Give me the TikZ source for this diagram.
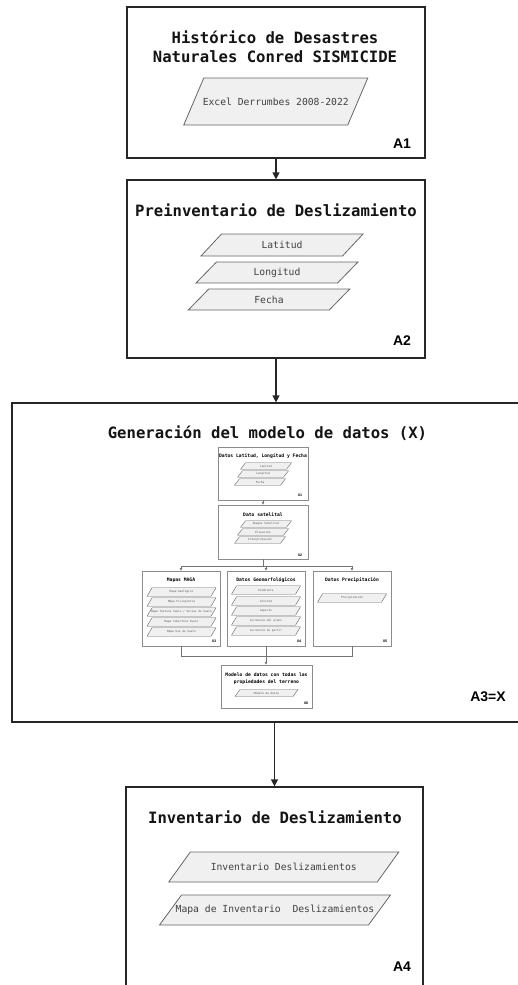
\documentclass[tikz,border=0pt]{standalone}
\usepackage{fontspec}
\newfontfamily\codefont{DejaVu Sans Mono}
\newfontfamily\tagfont{Liberation Sans}
\usetikzlibrary{arrows.meta}

\tikzset{
  stage/.style={draw=black!85, line width=1.2pt, fill=white, inner sep=0pt},
  substage/.style={draw=black!45, line width=0.8pt, fill=white, inner sep=0pt},
  slab/.style={draw=black!60, line width=0.8pt, fill=black!6},
  bigtitle/.style={font=\codefont\bfseries\fontsize{15.6}{19}\selectfont, align=center, text=black!92, inner sep=0pt},
  smalltitle/.style={font=\codefont\bfseries\fontsize{4.7}{7}\selectfont, align=center, inner sep=0pt},
  slabtext/.style={font=\codefont\fontsize{9.7}{11}\selectfont, text=black!75, inner sep=0pt},
  tinytext/.style={font=\codefont\fontsize{2.8}{3.5}\selectfont, text=black!65, inner sep=0pt},
  bigtag/.style={font=\tagfont\bfseries\fontsize{14}{16}\selectfont, inner sep=0pt},
  smalltag/.style={font=\tagfont\bfseries\fontsize{3.6}{4}\selectfont, inner sep=0pt},
  flow/.style={-{Triangle[length=7pt,width=7pt]}, line width=1.2pt, draw=black!85},
  subflow/.style={-{Triangle[length=2.5pt,width=2.5pt]}, line width=0.7pt, draw=black!55},
  subline/.style={line width=0.7pt, draw=black!55},
}

% parallelogram data item: name, cx, cy, width, height, slant, text style, text
\newcommand\slabat[8]{%
  \draw[slab] ({#2-#4/2+#6/2},{#3-#5/2}) -- ({#2+#4/2+#6/2},{#3-#5/2})
    -- ({#2+#4/2-#6/2},{#3+#5/2}) -- ({#2-#4/2-#6/2},{#3+#5/2}) -- cycle;
  \node[#7] (#1) at (#2,#3) {#8};}

\begin{document}
\begin{tikzpicture}[x=1pt,y=-1pt]
\useasboundingbox (0,0) rectangle (518,985);
\clip (0,0) rectangle (518,985);

% ---------- main stages ----------
\node[stage, minimum width=298pt, minimum height=151pt] (A1) at (276,82.5) {};
\node[stage, minimum width=298pt, minimum height=178pt] (A2) at (276,269) {};
\node[stage, minimum width=530pt, minimum height=319pt] (A3) at (277,562.5) {};
\node[stage, minimum width=297pt, minimum height=199pt] (A4) at (274.5,886.5) {};

% A1
\node[bigtitle] (t1) at (275,46.5) {Histórico de Desastres\\Naturales Conred SISMICIDE};
\slabat{excel}{275.75}{101.5}{164}{47}{20}{slabtext}{Excel Derrumbes 2008-2022}
\node[bigtag] (tagA1) at (402,144) {A1};

% A2
\node[bigtitle] (t2) at (276,210) {Preinventario de Deslizamiento};
\slabat{lat}{282}{245}{141.5}{22}{20.5}{slabtext}{Latitud}
\slabat{lon}{277}{272.5}{141.5}{21}{20.5}{slabtext}{Longitud}
\slabat{fec}{269}{299.5}{141}{21}{20.5}{slabtext}{Fecha}
\node[bigtag] (tagA2) at (402,341) {A2};

% A3
\node[bigtitle] (t3) at (267.5,433) {Generación del modelo de datos (X)};
\node[bigtag] (tagA3) at (488,697) {A3=X};

% A4
\node[bigtitle] (t4) at (275,817) {Inventario de Deslizamiento};
\slabat{inv}{283.75}{867}{208.5}{30}{21.5}{slabtext}{Inventario Deslizamientos}
\slabat{mapinv}{275}{910}{209}{30}{22}{slabtext}{Mapa de Inventario\ \ Deslizamientos}
\node[bigtag] (tagA4) at (402,967) {A4};

% main flow
\draw[flow] (A1.south) -- (A2.north);
\draw[flow] (A2.south) -- (A2.south |- A3.north);
\draw[flow] (A4.north |- A3.south) -- (A4.north);

% ---------- data model sub-stages ----------
\node[substage, minimum width=90pt, minimum height=53pt] (X1) at (263,473.5) {};
\node[substage, minimum width=90pt, minimum height=54pt] (X2) at (263,532) {};
\node[substage, minimum width=78pt, minimum height=75pt] (X3) at (181,608.5) {};
\node[substage, minimum width=78pt, minimum height=75pt] (X4) at (266,608.5) {};
\node[substage, minimum width=78pt, minimum height=75pt] (X5) at (352,608.5) {};
\node[substage, minimum width=91pt, minimum height=43pt] (X6) at (266.5,686.5) {};

\begin{scope}[slab/.append style={line width=0.4pt}]
% X1
\node[smalltitle] (s1) at (263,456) {Datos Latitud, Longitud y Fecha};
\slabat{x1a}{266}{466}{46}{6.5}{5}{tinytext}{Latitud}
\slabat{x1b}{263}{474}{46}{6.5}{5}{tinytext}{Longitud}
\slabat{x1c}{260}{482}{46}{6.5}{5}{tinytext}{Fecha}
\node[smalltag] (tagX1) at (300,495) {X1};
% X2
\node[smalltitle] (s2) at (263,515) {Dato satelital};
\slabat{x2a}{266}{524}{46}{6.5}{5}{tinytext}{Imagen Satelital}
\slabat{x2b}{263}{532}{46}{6.5}{5}{tinytext}{Elevación}
\slabat{x2c}{260}{540}{46}{6.5}{5}{tinytext}{Interpretación}
\node[smalltag] (tagX2) at (300,555) {X2};
% X3
\node[smalltitle] (s3) at (181,580) {Mapas MAGA};
\slabat{x3a}{181.5}{592}{64}{8.5}{5}{tinytext}{Mapa Geológico}
\slabat{x3b}{181.5}{602}{64}{8.5}{5}{tinytext}{Mapa Fisiografía}
\slabat{x3c}{181.5}{612}{64}{8.5}{5}{tinytext}{Mapa Textura Suelo / Series de Suelo}
\slabat{x3d}{181.5}{622}{64}{8.5}{5}{tinytext}{Mapa Cobertura Suelo}
\slabat{x3e}{181.5}{632}{64}{8.5}{5}{tinytext}{Mapa Uso de Suelo}
\node[smalltag] (tagX3) at (214,641) {X3};
% X4
\node[smalltitle] (s4) at (266,580) {Datos Geomorfológicos};
\slabat{x4a}{266}{590}{64}{8.5}{5}{tinytext}{Pendiente}
\slabat{x4b}{266}{601}{64}{8.5}{5}{tinytext}{Altitud}
\slabat{x4c}{266}{611}{64}{8.5}{5}{tinytext}{Aspecto}
\slabat{x4d}{266}{621}{64}{8.5}{5}{tinytext}{Curvatura del plano}
\slabat{x4e}{266}{631}{64}{8.5}{5}{tinytext}{Curvatura de perfil}
\node[smalltag] (tagX4) at (299,641) {X4};
% X5
\node[smalltitle] (s5) at (352,580) {Datos Precipitación};
\slabat{x5a}{352}{598}{64}{8.5}{5}{tinytext}{Precipitación}
\node[smalltag] (tagX5) at (385,641) {X5};
% X6
\node[smalltitle] (s6) at (266.5,678.5) {Modelo de datos con todas las\\propiedades del terreno};
\slabat{x6a}{266.5}{693}{58}{7}{5}{tinytext}{Modelo de datos}
\node[smalltag] (tagX6) at (306,703) {X6};
\end{scope}

% sub flow
\draw[subflow] (X1.south) -- (X2.north);
\coordinate (split) at ([yshift=-7pt]X2.south);
\draw[subline] (X2.south) -- (split);
\draw[subflow] (split) -| (X3.north);
\draw[subflow] (split) -| (X4.north);
\draw[subflow] (split) -| (X5.north);
\coordinate (merge) at (266.5,656);
\draw[subline] (X3.south) |- (merge);
\draw[subline] (X5.south) |- (merge);
\draw[subflow] (X4.south) -- (X4.south |- X6.north);
\end{tikzpicture}
\end{document}
